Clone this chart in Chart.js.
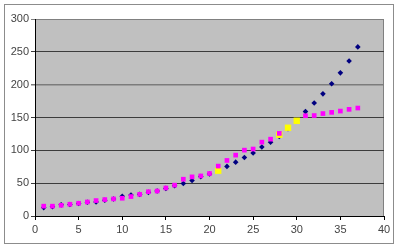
<!DOCTYPE html>
<html>
<head>
<meta charset="utf-8">
<script src="https://cdn.jsdelivr.net/npm/chart.js@4/dist/chart.umd.min.js"></script>
<style>
  html, body { margin: 0; padding: 0; background: #fff; }
  #wrap { width: 400px; height: 247px; }
</style>
</head>
<body>
<div id="wrap"><canvas id="myChart" width="400" height="247"></canvas></div>
<script>
// ===== data =====
const xValues = [1, 2, 3, 4, 5, 6, 7, 8, 9, 10, 11, 12, 13, 14, 15, 16, 17, 18, 19,
  20, 21, 22, 23, 24, 25, 26, 27, 28, 29, 30, 31, 32, 33, 34, 35, 36, 37];

const blueValues = [12.8, 14, 17, 17.5, 19, 21, 21.5, 24, 26, 30, 32, 33, 36, 38, 42, 46, 49.5, 54, 60,
  64, 70, 75.5, 82, 89, 96, 105, 112.5, 121, 133, 145, 159, 172, 186, 201.5, 218, 236, 257.5];

const pinkValues = [15, 15, 16.3, 17.9, 19.4, 21.4, 23.5, 25, 26, 27, 29.6, 33, 37, 38, 42.7, 47, 56, 59.6, 61,
  64.7, 76, 84.6, 92.7, 100.3, 102, 112.5, 117, 125.8, null, null, 152.7, 153, 156, 157.8, 159.8, 162.4, 164.4];

const yellowX = [21, 28, 29, 30];
const yellowValues = [69, 123.7, 134.4, 145];

const xTicks = [0, 5, 10, 15, 20, 25, 30, 35, 40];
const yTicks = [0, 50, 100, 150, 200, 250, 300];

function toPoints(xs, ys) {
  const pts = [];
  xs.forEach((x, i) => {
    if (ys[i] !== null) pts.push({ x: x, y: ys[i] });
  });
  return pts;
}

// background + frames
const framePlugin = {
  id: "frame",
  beforeDraw(chart) {
    const c = chart.ctx;
    const a = chart.chartArea;
    c.save();
    c.fillStyle = "#fff";
    c.fillRect(0, 0, chart.width, chart.height);
    c.strokeStyle = "#8c8c8c";
    c.lineWidth = 1;
    c.strokeRect(4.5, 4.5, 389, 239);
    c.fillStyle = "#c0c0c0";
    c.fillRect(a.left, a.top, a.right - a.left, a.bottom - a.top);
    c.strokeStyle = "#808080";
    c.strokeRect(a.left + 0.5, a.top + 0.5, a.right - a.left - 1, a.bottom - a.top);
    c.restore();
  },
};

const font = { family: "'Liberation Sans', Arial, sans-serif", size: 11 };

const ctx = document.getElementById("myChart").getContext("2d");
new Chart(ctx, {
  type: "scatter",
  data: {
    datasets: [
      {
        label: "pink",
        data: toPoints(xValues, pinkValues),
        pointStyle: "rect",
        pointRadius: 3.3,
        pointBackgroundColor: "#ff00ff",
        pointBorderWidth: 0,
        borderWidth: 0,
        order: 0,
      },
      {
        label: "yellow",
        data: toPoints(yellowX, yellowValues),
        pointStyle: "rect",
        pointRadius: 4.5,
        pointBackgroundColor: "#ffff00",
        pointBorderWidth: 0,
        borderWidth: 0,
        order: 1,
      },
      {
        label: "blue",
        data: toPoints(xValues, blueValues),
        pointStyle: "rectRot",
        pointRadius: 2.8,
        pointBackgroundColor: "#000080",
        pointBorderWidth: 0,
        borderWidth: 0,
        order: 2,
      },
    ],
  },
  options: {
    responsive: false,
    animation: false,
    devicePixelRatio: 1,
    layout: { padding: { left: 0, right: 16, top: 19, bottom: 0 } },
    plugins: {
      legend: { display: false },
      tooltip: { enabled: false },
    },
    scales: {
      x: {
        type: "linear",
        min: 0,
        max: 40,
        afterBuildTicks: (scale) => {
          scale.ticks = xTicks.map((v) => ({ value: v }));
        },
        afterFit: (scale) => {
          scale.height = 31;
        },
        grid: { drawOnChartArea: false, drawTicks: true, tickLength: 4, color: "#000" },
        border: { color: "#000" },
        ticks: { font: font, color: "#444", padding: 3, maxRotation: 0 },
      },
      y: {
        type: "linear",
        min: 0,
        max: 300,
        afterBuildTicks: (scale) => {
          scale.ticks = yTicks.map((v) => ({ value: v }));
        },
        afterFit: (scale) => {
          scale.width = 35;
        },
        grid: {
          drawTicks: true,
          tickLength: 4,
          color: (c) => {
            const v = c.tick ? c.tick.value : null;
            if (v === 300) return "#808080";
            if (v === 200) return "#7c7c7c";
            return "#3c3c3c";
          },
          lineWidth: (c) => (c.tick && c.tick.value === 200 ? 1.5 : 1),
        },
        border: { color: "#000" },
        ticks: { font: font, color: "#444", padding: 2 },
      },
    },
  },
  plugins: [framePlugin],
});
</script>
</body>
</html>
